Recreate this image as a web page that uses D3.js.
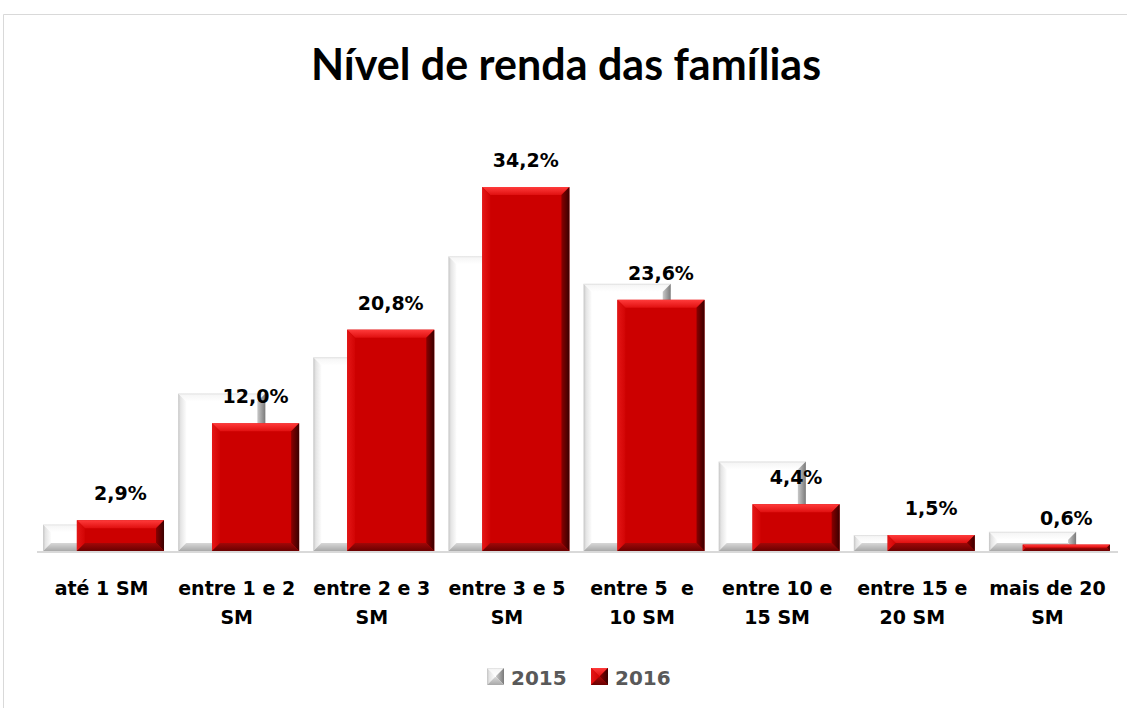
<!DOCTYPE html>
<html>
<head>
<meta charset="utf-8">
<script src="https://cdn.jsdelivr.net/npm/d3@7"></script>
<style>
  body { margin: 0; background: #fff; }
  text { font-family: "DejaVu Sans", sans-serif; font-weight: bold; }
  text.title { font-family: Lato, "Open Sans", sans-serif; }
</style>
</head>
<body>
<div id="chart"></div>
<script>
// data
var categories = ["até 1 SM", "entre 1 e 2 SM", "entre 2 e 3 SM", "entre 3 e 5 SM",
  "entre 5  e 10 SM", "entre 10 e 15 SM", "entre 15 e 20 SM", "mais de 20 SM"];
var categoryLines = [["até 1 SM"], ["entre 1 e 2", "SM"], ["entre 2 e 3", "SM"], ["entre 3 e 5", "SM"],
  ["entre 5  e", "10 SM"], ["entre 10 e", "15 SM"], ["entre 15 e", "20 SM"], ["mais de 20", "SM"]];
var values2015 = [2.5, 14.8, 18.2, 27.7, 25.1, 8.4, 1.5, 1.8];
var values2016 = [2.9, 12.0, 20.8, 34.2, 23.6, 4.4, 1.5, 0.6];
var labels2016 = ["2,9%", "12,0%", "20,8%", "34,2%", "23,6%", "4,4%", "1,5%", "0,6%"];
var seriesNames = ["2015", "2016"];

var svgWidth = 1127;
var svgHeight = 708;

var svg = d3.select("#chart")
  .append("svg")
  .attr("width", svgWidth)
  .attr("height", svgHeight);

// gradients for the bevelled bars
var defs = svg.append("defs");
function grad(id, x2, y2, stops) {
  var g = defs.append("linearGradient").attr("id", id)
    .attr("x1", 0).attr("y1", 0).attr("x2", x2).attr("y2", y2);
  stops.forEach(function(s) {
    g.append("stop").attr("offset", s[0]).attr("stop-color", s[1]);
  });
}
grad("rTop", 0, 1, [[0, "#ff3b3b"], [1, "#e01010"]]);
grad("rBot", 0, 1, [[0, "#a00808"], [1, "#6a0000"]]);
grad("rLeft", 1, 0, [[0, "#e41616"], [1, "#d20404"]]);
grad("rRight", 1, 0, [[0, "#8a0000"], [1, "#3a0000"]]);
grad("wTop", 0, 1, [[0, "#dcdcdc"], [0.2, "#f6f6f6"], [1, "#ffffff"]]);
grad("wBot", 0, 1, [[0, "#d8d8d8"], [1, "#a8a8a8"]]);
grad("wLeft", 1, 0, [[0, "#c4c4c4"], [0.3, "#e4e4e4"], [1, "#fcfcfc"]]);
grad("wRight", 1, 0, [[0, "#c8c8c8"], [1, "#7a7a7a"]]);

var redFill = { mid: "#cc0000", top: "url(#rTop)", bottom: "url(#rBot)", left: "url(#rLeft)", right: "url(#rRight)" };
var whiteFill = { mid: "#ffffff", top: "url(#wTop)", bottom: "url(#wBot)", left: "url(#wLeft)", right: "url(#wRight)" };

// chart frame (only top and left edges are visible)
svg.append("path")
  .attr("d", "M3.5,708 L3.5,14.5 L1127,14.5")
  .attr("fill", "none")
  .attr("stroke", "#d9d9d9")
  .attr("stroke-width", 1);

// title
svg.append("text")
  .attr("class", "title")
  .attr("x", 566)
  .attr("y", 80)
  .attr("text-anchor", "middle")
  .attr("font-size", "43px")
  .attr("fill", "#000")
  .text("Nível de renda das famílias");

// scales
var x = d3.scaleBand()
  .domain(categories)
  .range([37, 1118])
  .padding(0);

var y = d3.scaleLinear()
  .domain([0, 40])
  .range([551, 125.3]);

var bw = x.bandwidth();
var barW = bw * 0.645;
var shift = bw * 0.25;
var start = bw * 0.045;

function bevelBar(g, bx, by, w, h, c) {
  var b = Math.min(8, h / 2, w / 2);
  var pts = function(a) { return a.map(function(p) { return p.join(","); }).join(" "); };
  g.append("rect").attr("x", bx).attr("y", by).attr("width", w).attr("height", h).attr("fill", c.mid);
  g.append("polygon").attr("fill", c.top)
    .attr("points", pts([[bx, by], [bx + w, by], [bx + w - b, by + b], [bx + b, by + b]]));
  g.append("polygon").attr("fill", c.left)
    .attr("points", pts([[bx, by], [bx + b, by + b], [bx + b, by + h - b], [bx, by + h]]));
  g.append("polygon").attr("fill", c.right)
    .attr("points", pts([[bx + w, by], [bx + w, by + h], [bx + w - b, by + h - b], [bx + w - b, by + b]]));
  g.append("polygon").attr("fill", c.bottom)
    .attr("points", pts([[bx, by + h], [bx + b, by + h - b], [bx + w - b, by + h - b], [bx + w, by + h]]));
}

// axis line
svg.append("line")
  .attr("x1", 37).attr("x2", 1118)
  .attr("y1", 552).attr("y2", 552)
  .attr("stroke", "#d9d9d9")
  .attr("stroke-width", 2);

var bars = svg.append("g");
categories.forEach(function(cat, i) {
  var g = bars.append("g");
  var x0 = x(cat) + start;
  bevelBar(g, x0, y(values2015[i]), barW, y(0) - y(values2015[i]), whiteFill);
  bevelBar(g, x0 + shift, y(values2016[i]), barW, y(0) - y(values2016[i]), redFill);
});

// data labels for 2016
svg.append("g").selectAll("text")
  .data(values2016)
  .enter()
  .append("text")
  .attr("x", function(d, i) { return x(categories[i]) + start + shift + barW / 2; })
  .attr("y", function(d) { return y(d) - 20; })
  .attr("text-anchor", "middle")
  .attr("font-size", "19px")
  .attr("fill", "#000")
  .text(function(d, i) { return labels2016[i]; });

// category labels
var catG = svg.append("g").selectAll("text")
  .data(categoryLines)
  .enter()
  .append("text")
  .attr("text-anchor", "middle")
  .attr("font-size", "19px")
  .attr("fill", "#000")
  .style("white-space", "pre");
catG.selectAll("tspan")
  .data(function(d, i) { return d.map(function(t) { return { t: t, i: i }; }); })
  .enter()
  .append("tspan")
  .attr("x", function(d) { return x(categories[d.i]) + bw / 2 - 3; })
  .attr("y", function(d, j) { return 595 + j * 29; })
  .text(function(d) { return d.t; });

// legend
var legend = svg.append("g");
var legendX = [487, 591];
seriesNames.forEach(function(name, i) {
  var lg = legend.append("g");
  bevelBar(lg, legendX[i], 668, 17, 17, i === 0 ? whiteFill : redFill);
  lg.append("text")
    .attr("x", legendX[i] + 24)
    .attr("y", 685)
    .attr("font-size", "20px")
    .attr("fill", "#595959")
    .text(name);
});
</script>
</body>
</html>
